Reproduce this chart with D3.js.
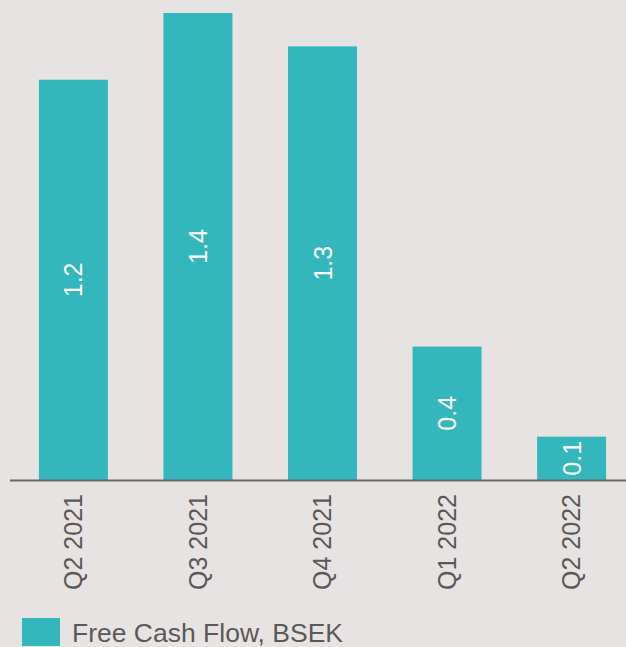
<!DOCTYPE html>
<html>
<head>
<meta charset="utf-8">
<script src="https://cdn.jsdelivr.net/npm/d3@7"></script>
<style>
  html, body { margin: 0; padding: 0; background: #e8e3e3; }
  svg { display: block; font-family: Arial, "Liberation Sans", sans-serif; }
</style>
</head>
<body>
<svg></svg>
<script>
var quarters = ["Q2 2021", "Q3 2021", "Q4 2021", "Q1 2022", "Q2 2022"];
var freeCashFlow = [1.2, 1.4, 1.3, 0.4, 0.13];
var seriesName = "Free Cash Flow, BSEK";

var width = 626, height = 647;
var baseline = 480;

var svg = d3.select("svg")
  .attr("width", width)
  .attr("height", height);

svg.append("rect")
  .attr("width", width)
  .attr("height", height)
  .attr("fill", "#e8e3e3");

var x = d3.scaleBand()
  .domain(quarters)
  .range([14, 631])
  .paddingInner(0.446)
  .paddingOuter(0.2);

var y = d3.scaleLinear()
  .domain([0, 1.4])
  .range([baseline, 13]);

var fmt = d3.format(".1f");

var bars = svg.append("g").selectAll("g")
  .data(quarters.map(function(q, i) { return { q: q, v: freeCashFlow[i] }; }))
  .enter().append("g");

bars.append("rect")
  .attr("x", function(d) { return x(d.q); })
  .attr("y", function(d) { return y(d.v); })
  .attr("width", x.bandwidth())
  .attr("height", function(d) { return y(0) - y(d.v); })
  .attr("fill", "#33b7bc");

// value labels, rotated, centred in the bar
bars.append("text")
  .attr("transform", function(d) {
    var cx = x(d.q) + x.bandwidth() / 2;
    var cy = (y(d.v) + y(0)) / 2;
    return "translate(" + cx + "," + cy + ") rotate(-90)";
  })
  .attr("text-anchor", "middle")
  .attr("dominant-baseline", "central")
  .attr("fill", "#ffffff")
  .attr("font-size", "25px")
  .text(function(d) { return fmt(d.v); });

// axis
var axis = svg.append("g")
  .attr("transform", "translate(0," + baseline + ")")
  .call(d3.axisBottom(x).tickSize(0).tickPadding(0));

axis.select(".domain").remove();
axis.append("line")
  .attr("x1", 10)
  .attr("x2", width)
  .attr("y1", 0.5)
  .attr("y2", 0.5)
  .attr("stroke", "#6b6565")
  .attr("stroke-width", 2);

axis.selectAll(".tick text")
  .attr("transform", "translate(0,14) rotate(-90)")
  .attr("x", 0)
  .attr("y", 0)
  .attr("dy", "0.35em")
  .attr("text-anchor", "end")
  .attr("fill", "#5c5858")
  .attr("font-size", "25px")
  .attr("font-family", "Arial, 'Liberation Sans', sans-serif");

// legend
var legend = svg.append("g")
  .attr("transform", "translate(22,618)");

legend.append("rect")
  .attr("width", 38)
  .attr("height", 28)
  .attr("fill", "#33b7bc");

legend.append("text")
  .attr("x", 50)
  .attr("y", 24)
  .attr("fill", "#5c5858")
  .attr("font-size", "26.5px")
  .text(seriesName);
</script>
</body>
</html>
